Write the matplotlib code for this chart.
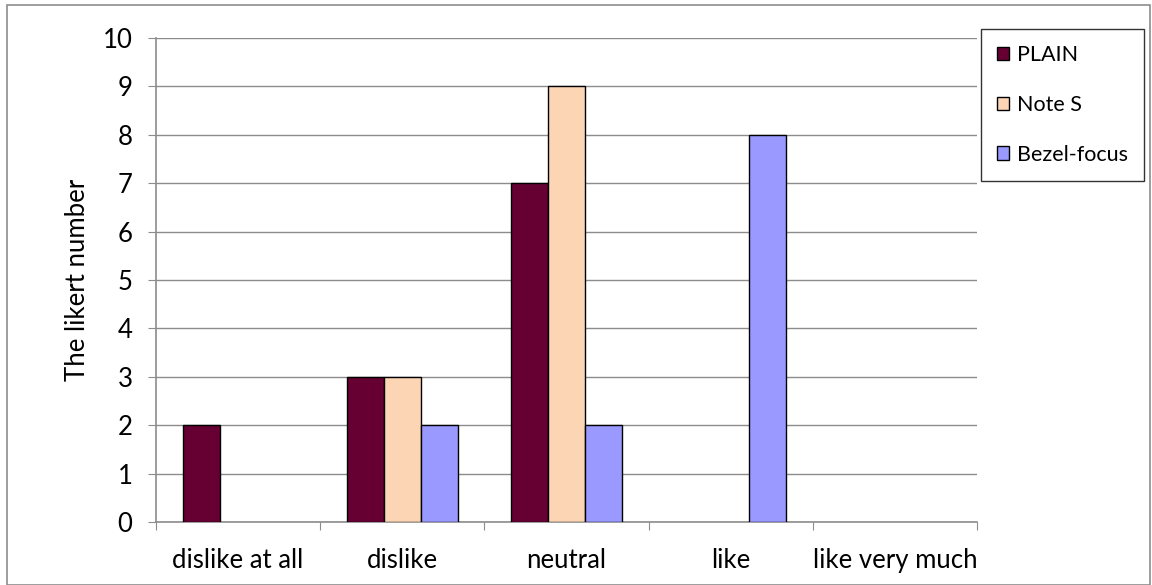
import matplotlib.pyplot as plt
import numpy as np
from matplotlib.patches import Rectangle

categories = ['dislike at all', 'dislike', 'neutral', 'like', 'like very much']
plain = [2, 3, 7, 0, 0]
note_s = [0, 3, 9, 0, 0]
bezel = [0, 2, 2, 8, 0]
series_names = ['PLAIN', 'Note S', 'Bezel-focus']
colors = ['#660033', '#FCD5B5', '#9999FF']

plt.rcParams['font.family'] = ['Lato', 'DejaVu Sans']

fig = plt.figure(figsize=(11.52, 5.85), dpi=100)
ax = fig.add_axes([156 / 1152, 1 - 522 / 585, (977 - 156) / 1152, (522 - 38) / 585])

# frame around the whole chart
fig.patches.append(Rectangle((7 / 1152, 0.0), 1143 / 1152, 1 - 5 / 585, transform=fig.transFigure,
                             fill=False, edgecolor='#8c8c8c', linewidth=1.2))

x = np.arange(len(categories))
width = 0.225
handles = []
for i, (vals, name, col) in enumerate(zip([plain, note_s, bezel], series_names, colors)):
    bars = ax.bar(x + (i - 1) * width, vals, width, color=col, edgecolor='black', linewidth=1.0,
                  zorder=3)
    # empty bars would otherwise leave a black line on the axis
    for b, v in zip(bars, vals):
        if v == 0:
            b.set_visible(False)
    handles.append(Rectangle((0, 0), 1, 1, facecolor=col, edgecolor='black', linewidth=1.0))

ax.set_xlim(-0.5, len(categories) - 0.5)
ax.set_ylim(0, 10)
ax.set_yticks(range(0, 11))
ax.yaxis.grid(True, color='#8c8c8c', linewidth=1.0, zorder=0)

ax.set_xticks(np.arange(-0.5, len(categories)), minor=False)
ax.set_xticklabels([])
ax.set_xticks(x, minor=True)
ax.set_xticklabels(categories, minor=True)
ax.tick_params(axis='x', which='major', length=6, color='#8c8c8c', direction='out')
ax.tick_params(axis='x', which='minor', length=0, pad=19, labelsize=18.5)
ax.tick_params(axis='y', length=6, color='#8c8c8c', labelsize=18.5, pad=11)

for s in ['top', 'right']:
    ax.spines[s].set_visible(False)
for s in ['left', 'bottom']:
    ax.spines[s].set_color('#8c8c8c')
    ax.spines[s].set_linewidth(1.2)

ax.set_ylabel('The likert number', fontsize=18.5, labelpad=9)

leg = ax.legend(handles, series_names, loc='upper left', bbox_to_anchor=(981 / 1152, 1 - 29 / 585),
                bbox_transform=fig.transFigure,
                fontsize=15.5, frameon=True, fancybox=False, edgecolor='black',
                handlelength=0.56, handleheight=0.56, handletextpad=0.35, labelspacing=1.38,
                borderpad=0.75, borderaxespad=0)
leg.get_frame().set_linewidth(1.0)

fig.savefig('out.png', dpi=100)
